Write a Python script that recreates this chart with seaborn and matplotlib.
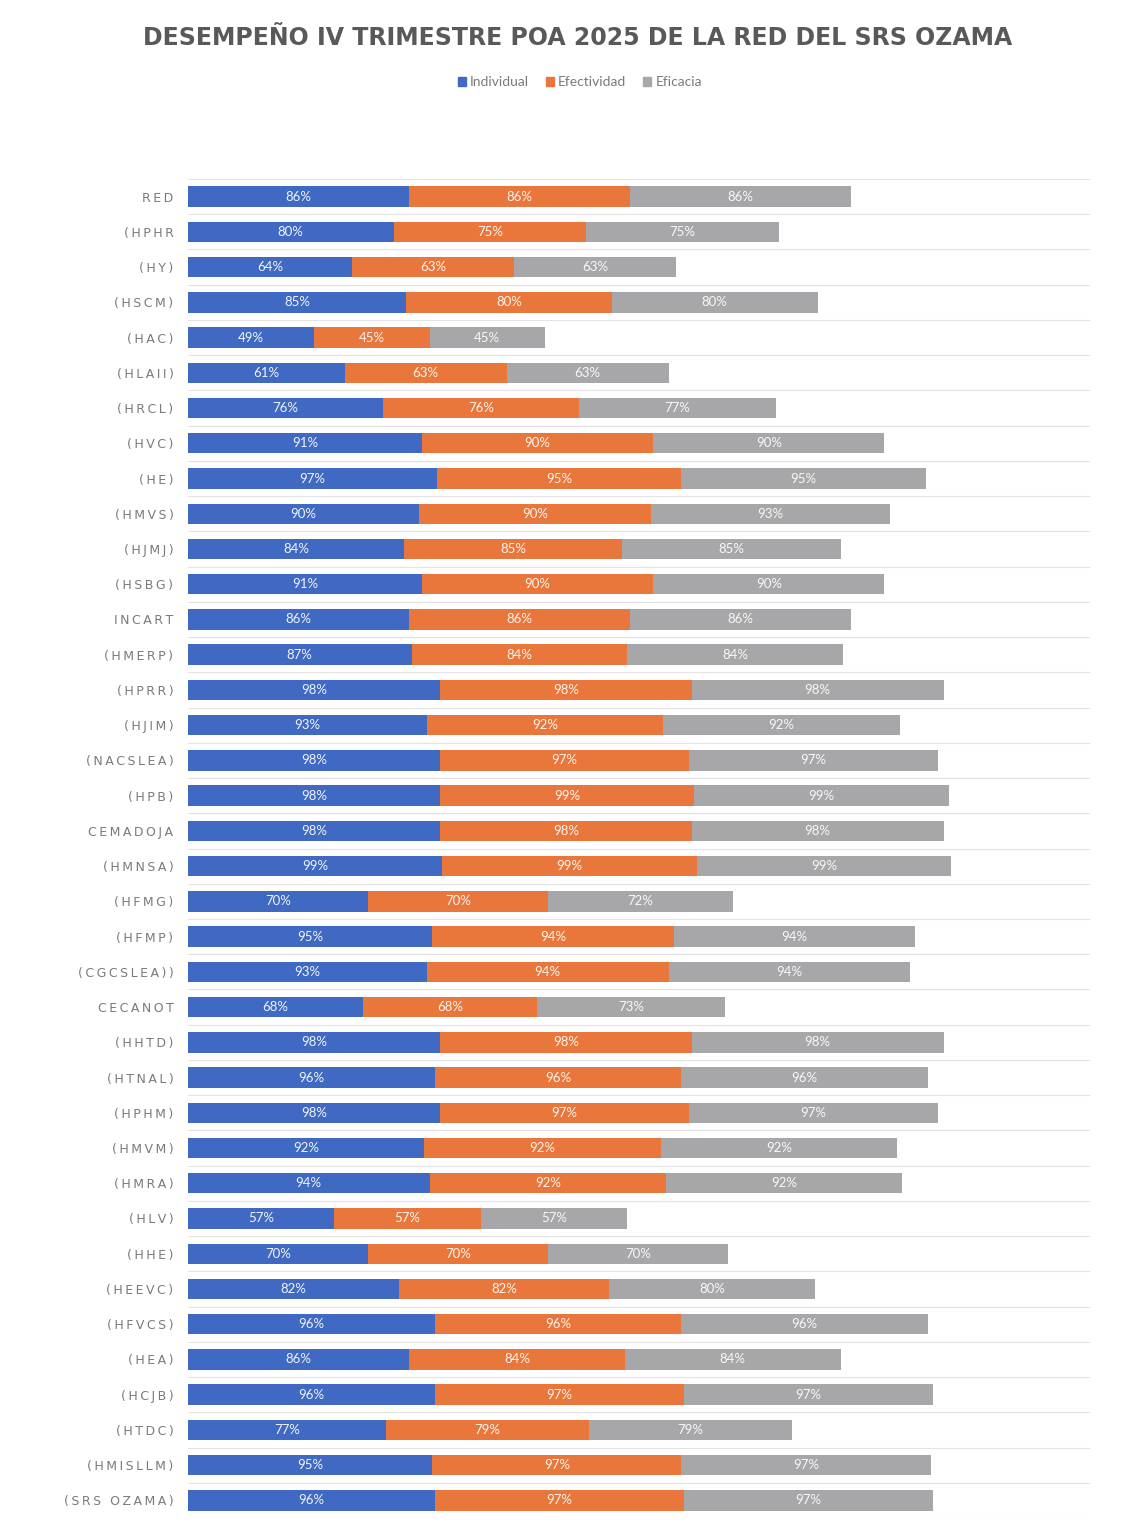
import matplotlib
matplotlib.use("Agg")
import matplotlib.pyplot as plt
import seaborn as sns
import numpy as np
import pandas as pd

categories = ["RED", "(HPHR", "(HY)", "(HSCM)", "(HAC)", "(HLAII)", "(HRCL)", "(HVC)",
              "(HE)", "(HMVS)", "(HJMJ)", "(HSBG)", "INCART", "(HMERP)", "(HPRR)", "(HJIM)",
              "(NACSLEA)", "(HPB)", "CEMADOJA", "(HMNSA)", "(HFMG)", "(HFMP)", "(CGCSLEA))",
              "CECANOT", "(HHTD)", "(HTNAL)", "(HPHM)", "(HMVM)", "(HMRA)", "(HLV)", "(HHE)",
              "(HEEVC)", "(HFVCS)", "(HEA)", "(HCJB)", "(HTDC)", "(HMISLLM)", "(SRS OZAMA)"]
individual = [86, 80, 64, 85, 49, 61, 76, 91, 97, 90, 84, 91, 86, 87, 98, 93, 98, 98, 98, 99,
              70, 95, 93, 68, 98, 96, 98, 92, 94, 57, 70, 82, 96, 86, 96, 77, 95, 96]
efectividad = [86, 75, 63, 80, 45, 63, 76, 90, 95, 90, 85, 90, 86, 84, 98, 92, 97, 99, 98, 99,
               70, 94, 94, 68, 98, 96, 97, 92, 92, 57, 70, 82, 96, 84, 97, 79, 97, 97]
eficacia = [86, 75, 63, 80, 45, 63, 77, 90, 95, 93, 85, 90, 86, 84, 98, 92, 97, 99, 98, 99,
            72, 94, 94, 73, 98, 96, 97, 92, 92, 57, 70, 80, 96, 84, 97, 79, 97, 97]
series_names = ["Individual", "Efectividad", "Eficacia"]
colors = ["#3F69C2", "#E9763A", "#A7A6A9"]

df = pd.DataFrame({"cat": categories, "Individual": individual,
                   "Efectividad": efectividad, "Eficacia": eficacia})
df["c1"] = df["Individual"]
df["c2"] = df["c1"] + df["Efectividad"]
df["c3"] = df["c2"] + df["Eficacia"]

sns.set_theme(style="white")
plt.rcParams["font.family"] = ["Lato", "DejaVu Sans"]

fig = plt.figure(figsize=(11.37, 15.35), dpi=100)
ax = fig.add_axes([188/1137, 1 - 1518/1535, (1090-188)/1137, (1518-179)/1535])

# stacked via overlapping cumulative bars
for col, c in zip(["c3", "c2", "c1"], colors[::-1]):
    sns.barplot(data=df, y="cat", x=col, color=c, orient="h", width=0.58,
                saturation=1, ax=ax, linewidth=0)

# labels
for i, row in df.iterrows():
    lefts = [0, row["c1"], row["c2"]]
    vals = [row["Individual"], row["Efectividad"], row["Eficacia"]]
    for l, v in zip(lefts, vals):
        ax.text(l + v/2, i, f"{v}%", ha="center", va="center", color="white",
                fontsize=9.5, alpha=0.92)

ax.set_xlim(0, 351)
ax.set_ylim(len(categories) - 0.5, -0.5)
ax.set_xlabel("")
ax.set_ylabel("")
ax.set_xticks([])
for y in np.arange(-0.5, len(categories), 1.0):
    ax.axhline(y, color="#e3e3e3", lw=0.8, zorder=0)
for s in ax.spines.values():
    s.set_visible(False)
ax.tick_params(axis="y", length=0, pad=10.5)


def spaced(label):
    return "\u2009 \u2009".join("\u2009".join(w) for w in label.split(" "))


ax.set_yticks(range(len(categories)))
ax.set_yticklabels([spaced(c) for c in categories], fontsize=9,
                   color="#7a7a7a", family=["DejaVu Sans"])

fig.text(0.508, 1 - 38/1535, "DESEMPEÑO IV TRIMESTRE POA 2025 DE LA RED DEL SRS OZAMA",
         ha="center", va="center", fontsize=17, fontweight="bold", color="#595959",
         family=["DejaVu Sans"])

handles = [plt.Rectangle((0, 0), 1, 1, color=c) for c in colors]
fig.legend(handles, series_names, loc="center", bbox_to_anchor=(0.51, 1 - 82/1535),
           ncol=3, frameon=False, fontsize=10, handlelength=0.6, handleheight=0.6,
           handletextpad=0.3, columnspacing=1.2, labelcolor="#7a7a7a")

fig.savefig("out.png", dpi=100)
